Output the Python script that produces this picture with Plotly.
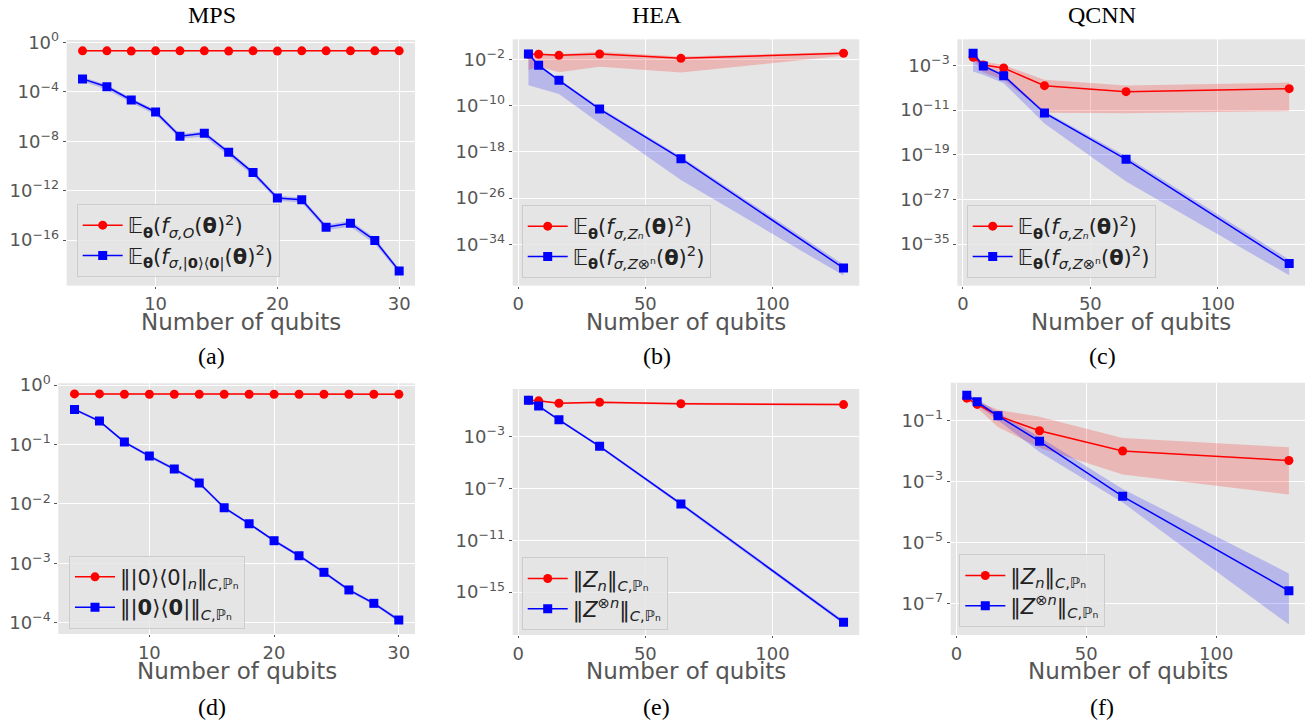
import plotly.graph_objects as go

# ---------------- data ----------------
n_mps = [4, 6, 8, 10, 12, 14, 16, 18, 20, 22, 24, 26, 28, 30]
n_big = [4, 8, 16, 32, 64, 128]

# (a) MPS variance
a_red = [0.21, 0.21, 0.2, 0.21, 0.21, 0.21, 0.2, 0.21, 0.2, 0.21, 0.21, 0.21, 0.21, 0.21]
a_red_lo = [0.19, 0.19, 0.185, 0.19, 0.19, 0.19, 0.185, 0.19, 0.185, 0.19, 0.19, 0.19, 0.19, 0.19]
a_red_hi = [0.23, 0.23, 0.22, 0.23, 0.23, 0.23, 0.22, 0.23, 0.22, 0.23, 0.23, 0.23, 0.23, 0.23]
a_blue = [1.12e-3, 2.57e-4, 2.19e-5, 2.34e-6, 2.57e-8, 4.47e-8, 1.26e-9, 2.88e-11,
          2.51e-13, 1.86e-13, 1.10e-15, 2.29e-15, 9.33e-17, 3.16e-19]
a_blue_lo = [7.0e-4, 1.5e-4, 1.3e-5, 1.4e-6, 1.6e-8, 2.4e-8, 6.5e-10, 1.7e-11,
             1.5e-13, 1.1e-13, 6.5e-16, 1.2e-15, 5.0e-17, 1.9e-19]
a_blue_hi = [1.6e-3, 3.8e-4, 3.2e-5, 3.4e-6, 3.8e-8, 6.5e-8, 1.9e-9, 4.2e-11,
             3.8e-13, 2.8e-13, 1.7e-15, 3.6e-15, 1.5e-16, 5.0e-19]

# (b) HEA variance
b_red = [7.4e-2, 7.4e-2, 4.9e-2, 8.3e-2, 1.48e-2, 1.1e-1]
b_red_lo = [1.4e-4, 5e-4, 5.6e-5, 5.4e-4, 5e-5, 4e-2]
b_red_hi = [0.1, 0.1, 0.08, 0.2, 0.032, 0.18]
b_blue = [8.3e-2, 9.1e-4, 2.3e-6, 2.5e-11, 6.5e-20, 7.9e-39]
b_blue_lo = [3.2e-7, 1e-7, 1e-8, 8.5e-14, 1.3e-23, 4e-40]
b_blue_hi = [0.13, 1.6e-3, 4e-6, 5e-11, 1.6e-19, 3.2e-38]

# (c) QCNN variance
c_red = [2.7e-2, 1.15e-3, 3.3e-4, 2.3e-7, 1.9e-8, 6.6e-8]
c_red_lo = [1e-2, 5e-5, 2.5e-6, 3.2e-12, 2.5e-12, 6.3e-12]
c_red_hi = [5e-2, 5e-3, 1.1e-3, 2.5e-6, 2.5e-7, 8e-7]
c_blue = [0.14, 7.6e-4, 1.4e-5, 2.9e-12, 1.45e-20, 3.2e-39]
c_blue_lo = [7.9e-5, 2e-5, 6.3e-7, 4e-14, 1.6e-24, 2.5e-41]
c_blue_hi = [0.5, 1.26e-3, 2.5e-5, 6.3e-12, 5e-20, 1.6e-38]

# (d) MPS norm
d_red = [0.71, 0.71, 0.7, 0.7, 0.7, 0.7, 0.7, 0.7, 0.7, 0.7, 0.7, 0.7, 0.7, 0.7]
d_red_lo = [0.69, 0.69, 0.68, 0.68, 0.68, 0.68, 0.68, 0.68, 0.68, 0.68, 0.68, 0.68, 0.68, 0.68]
d_red_hi = [0.73, 0.73, 0.72, 0.72, 0.72, 0.72, 0.72, 0.72, 0.72, 0.72, 0.72, 0.72, 0.72, 0.72]
d_blue = [0.39, 0.248, 0.11, 0.0638, 0.0386, 0.0225, 0.00863, 0.00465, 0.0024,
          0.00134, 0.000705, 0.000356, 0.000212, 0.000111]
d_blue_lo = [0.37, 0.235, 0.104, 0.06, 0.036, 0.021, 0.0081, 0.0044, 0.00226,
             0.00126, 0.00066, 0.000333, 0.000198, 0.000103]
d_blue_hi = [0.41, 0.262, 0.117, 0.068, 0.041, 0.024, 0.0092, 0.0049, 0.00254,
             0.00142, 0.00075, 0.000378, 0.000226, 0.000119]

# (e) HEA norm
e_red = [0.65, 0.58, 0.38, 0.45, 0.35, 0.30]
e_red_lo = [0.55, 0.5, 0.33, 0.37, 0.29, 0.25]
e_red_hi = [0.75, 0.68, 0.44, 0.52, 0.42, 0.36]
e_blue = [0.65, 0.23, 2.0e-2, 1.8e-4, 6.3e-9, 4.6e-18]
e_blue_lo = [0.55, 0.19, 1.6e-2, 1.4e-4, 4.5e-9, 3.2e-18]
e_blue_hi = [0.75, 0.28, 2.5e-2, 2.3e-4, 8.5e-9, 6.5e-18]

# (f) QCNN norm
f_red = [0.53, 0.33, 0.139, 0.045, 9.8e-3, 4.8e-3]
f_red_lo = [0.45, 0.25, 0.06, 0.0126, 1.66e-3, 3.7e-4]
f_red_hi = [0.63, 0.42, 0.22, 0.13, 0.026, 0.013]
f_blue = [0.66, 0.4, 0.139, 0.0204, 3.2e-4, 2.57e-7]
f_blue_lo = [0.56, 0.32, 0.1, 9.1e-3, 2.0e-4, 2.0e-8]
f_blue_hi = [0.76, 0.5, 0.18, 0.028, 5.6e-4, 9.5e-7]

# tick labels (exponents of 10)
yexp_a = [0, -4, -8, -12, -16]
yexp_b = [-2, -10, -18, -26, -34]
yexp_c = [-3, -11, -19, -27, -35]
yexp_d = [0, -1, -2, -3, -4]
yexp_e = [-3, -7, -11, -15]
yexp_f = [-1, -3, -5, -7]
xt_mps = [10, 20, 30]
xt_big = [0, 50, 100]

col_titles = ["MPS", "HEA", "QCNN"]
panel_labels = ["(a)", "(b)", "(c)", "(d)", "(e)", "(f)"]
xlabel = "Number of qubits"

E = "𝔼<sub><b>θ</b></sub>"
F = "<i>f</i>"
leg = {
    "a": [E + "(" + F + "<sub><i>σ,O</i></sub>(<b>θ</b>)<sup>2</sup>)",
          E + "(" + F + "<sub><i>σ</i>,|<b>0</b>⟩⟨<b>0</b>|</sub>(<b>θ</b>)<sup>2</sup>)"],
    "b": [E + "(" + F + "<sub><i>σ,Zₙ</i></sub>(<b>θ</b>)<sup>2</sup>)",
          E + "(" + F + "<sub><i>σ,Z</i>⊗ⁿ</sub>(<b>θ</b>)<sup>2</sup>)"],
    "c": [E + "(" + F + "<sub><i>σ,Zₙ</i></sub>(<b>θ</b>)<sup>2</sup>)",
          E + "(" + F + "<sub><i>σ,Z</i>⊗ⁿ</sub>(<b>θ</b>)<sup>2</sup>)"],
    "d": ["‖|0⟩⟨0|<sub><i>n</i></sub>‖<sub><i>C</i>,ℙₙ</sub>",
          "‖|<b>0</b>⟩⟨<b>0</b>|‖<sub><i>C</i>,ℙₙ</sub>"],
    "e": ["‖<i>Z</i><sub><i>n</i></sub>‖<sub><i>C</i>,ℙₙ</sub>",
          "‖<i>Z</i><sup>⊗<i>n</i></sup>‖<sub><i>C</i>,ℙₙ</sub>"],
    "f": ["‖<i>Z</i><sub><i>n</i></sub>‖<sub><i>C</i>,ℙₙ</sub>",
          "‖<i>Z</i><sup>⊗<i>n</i></sup>‖<sub><i>C</i>,ℙₙ</sub>"],
}

# ---------------- layout geometry (px) ----------------
W, H = 1313, 726
panels = [
    ("a", n_mps, a_red, a_red_lo, a_red_hi, a_blue, a_blue_lo, a_blue_hi, (66.7, 415), (40, 285.7), [2.7, 31.3], [-19.7, 0.2], xt_mps, yexp_a, (76.7, 204)),
    ("b", n_big, b_red, b_red_lo, b_red_hi, b_blue, b_blue_lo, b_blue_hi, (512.7, 859.3), (39.3, 285.7), [-2.2, 134.2], [-41.15, 1.46], xt_big, yexp_b, (521.7, 205)),
    ("c", n_big, c_red, c_red_lo, c_red_hi, c_blue, c_blue_lo, c_blue_hi, (957.3, 1305), (39.3, 285.7), [-2.2, 134.2], [-42.46, 1.66], xt_big, yexp_c, (966.7, 205)),
    ("d", n_mps, d_red, d_red_lo, d_red_hi, d_blue, d_blue_lo, d_blue_hi, (58.3, 415), (383.3, 634), [2.7, 31.3], [-4.19, 0.03], xt_mps, yexp_d, (69, 555.7)),
    ("e", n_big, e_red, e_red_lo, e_red_hi, e_blue, e_blue_lo, e_blue_hi, (512.7, 859.3), (389, 635), [-2.2, 134.2], [-18.32, 0.68], xt_big, yexp_e, (521.7, 557.3)),
    ("f", n_big, f_red, f_red_lo, f_red_hi, f_blue, f_blue_lo, f_blue_hi, (950.7, 1305), (382.7, 635), [-2.2, 134.2], [-8.04, 0.23], xt_big, yexp_f, (959.3, 554.3)),
]

RED = "#FF0000"
BLUE = "#0000FF"
RED_FILL = "rgba(255,0,0,0.2)"
BLUE_FILL = "rgba(0,0,255,0.2)"
TICK_COL = "#555555"

fig = go.Figure()
layout = dict(
    width=W, height=H, margin=dict(l=0, r=0, t=0, b=0, autoexpand=False),
    paper_bgcolor="white", plot_bgcolor="#E5E5E5",
    font=dict(family="DejaVu Sans", color=TICK_COL),
)
annotations = []

for i, (key, xs, r, rlo, rhi, b, blo, bhi, xd, yd, xr, yr, xt, ye, lp) in enumerate(panels):
    k = "" if i == 0 else str(i + 1)
    xa, ya = "x" + k, "y" + k
    lg = "legend" + k
    # bands
    for lo, hi, fc in ((rlo, rhi, RED_FILL), (blo, bhi, BLUE_FILL)):
        fig.add_trace(go.Scatter(x=xs, y=hi, mode="lines", line=dict(width=0, color=fc),
                                 showlegend=False, hoverinfo="skip", xaxis=xa, yaxis=ya, legend=lg))
        fig.add_trace(go.Scatter(x=xs, y=lo, mode="lines", line=dict(width=0, color=fc),
                                 fill="tonexty", fillcolor=fc, showlegend=False,
                                 hoverinfo="skip", xaxis=xa, yaxis=ya, legend=lg))
    fig.add_trace(go.Scatter(x=xs, y=r, mode="lines+markers", name=leg[key][0],
                             line=dict(color=RED, width=1.5),
                             marker=dict(symbol="circle", size=9, color=RED),
                             xaxis=xa, yaxis=ya, legend=lg, legendgroup=key + "r"))
    fig.add_trace(go.Scatter(x=xs, y=b, mode="lines+markers", name=leg[key][1],
                             line=dict(color=BLUE, width=1.5),
                             marker=dict(symbol="square", size=9, color=BLUE),
                             xaxis=xa, yaxis=ya, legend=lg, legendgroup=key + "b"))

    layout["xaxis" + k] = dict(
        domain=[xd[0] / W, xd[1] / W], anchor=ya, range=xr, automargin=False,
        tickvals=xt, ticktext=[str(v) for v in xt],
        tickfont=dict(size=18, color=TICK_COL, family="DejaVu Sans"),
        ticks="outside", ticklen=2, tickcolor=TICK_COL,
        showgrid=True, gridcolor="white", gridwidth=1.2, zeroline=False, showline=False,
    )
    layout["yaxis" + k] = dict(
        domain=[1 - yd[1] / H, 1 - yd[0] / H], anchor=xa, type="log", range=yr, automargin=False,
        tickvals=[10.0 ** e for e in ye],
        ticktext=["10<sup>" + str(e).replace("-", "−") + "</sup>" for e in ye],
        tickfont=dict(size=18, color=TICK_COL, family="DejaVu Sans"),
        ticks="outside", ticklen=3, tickcolor=TICK_COL,
        showgrid=True, gridcolor="white", gridwidth=1.2, zeroline=False, showline=False,
    )
    layout[lg] = dict(
        x=lp[0] / W, y=1 - lp[1] / H, xanchor="left", yanchor="top",
        bgcolor="rgba(229,229,229,0.85)", bordercolor="#cccccc", borderwidth=1,
        font=dict(size=21, color="#222222", family="DejaVu Sans"),
        itemwidth=40, tracegroupgap=6, traceorder="normal",
    )
    # x-axis title
    xc = (xd[0] + xd[1]) / 2
    ty = 322 if i < 3 else 671
    annotations.append(dict(text=xlabel, x=xc / W, y=1 - ty / H, xref="paper", yref="paper",
                            xanchor="center", yanchor="middle", showarrow=False,
                            font=dict(size=23, color=TICK_COL, family="DejaVu Sans")))

# column titles and panel labels
title_x = [211.7, 656.7, 1102]
for j, t in enumerate(col_titles):
    annotations.append(dict(text=t, x=title_x[j] / W, y=1 - 15 / H, xref="paper", yref="paper",
                            xanchor="center", yanchor="middle", showarrow=False,
                            font=dict(size=24, color="black", family="Liberation Serif")))
for j, t in enumerate(panel_labels):
    ly = 356 if j < 3 else 707
    annotations.append(dict(text=t, x=title_x[j % 3] / W, y=1 - ly / H, xref="paper", yref="paper",
                            xanchor="center", yanchor="middle", showarrow=False,
                            font=dict(size=24, color="black", family="Liberation Serif")))

layout["annotations"] = annotations
fig.update_layout(**layout)
fig.write_html("out.html", config={"displayModeBar": False},
               post_script="document.body.style.margin='0px';document.body.style.overflow='hidden';")
